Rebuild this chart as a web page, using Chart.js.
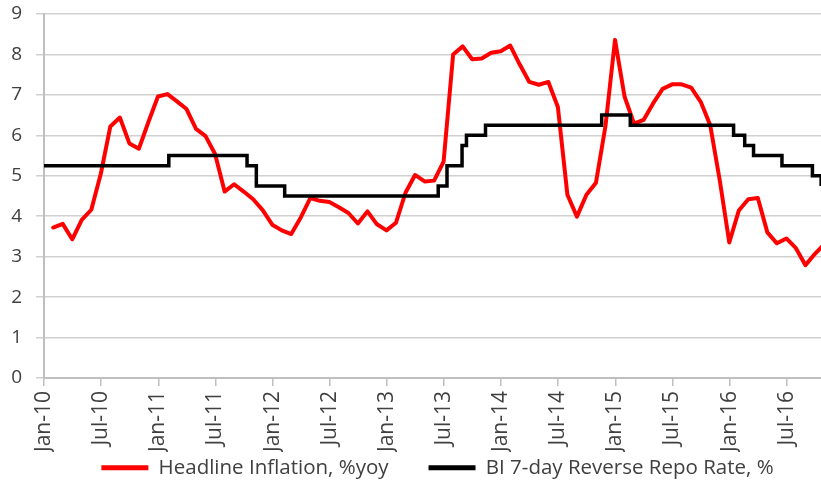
<!DOCTYPE html>
<html>
<head>
<meta charset="utf-8">
<script src="https://cdn.jsdelivr.net/npm/chart.js@4.4.1/dist/chart.umd.min.js"></script>
<style>
  html, body { margin: 0; padding: 0; background: #ffffff; }
  #wrap { width: 821px; height: 486px; position: relative; }
</style>
</head>
<body>
<div id="wrap"><canvas id="chart"></canvas></div>
<script>
// x axis: month offsets from Jan-10, ticks every 6 months
const TICK_LABELS = ["Jan-10", "Jul-10", "Jan-11", "Jul-11", "Jan-12", "Jul-12", "Jan-13",
  "Jul-13", "Jan-14", "Jul-14", "Jan-15", "Jul-15", "Jan-16", "Jul-16"];
const Y_TICKS = [0, 1, 2, 3, 4, 5, 6, 7, 8, 9];
const X_MAX = 81.6;

// headline inflation, monthly from Jan-10 (plotted at month end)
const INFLATION_START = "2010-01";
const INFLATION = [
  3.72, 3.81, 3.43, 3.91, 4.16, 5.05, 6.22, 6.44, 5.80, 5.67, 6.33, 6.96,
  7.02, 6.84, 6.65, 6.16, 5.98, 5.54, 4.61, 4.79, 4.61, 4.42, 4.15, 3.79,
  3.65, 3.56, 3.97, 4.45, 4.38, 4.35, 4.22, 4.08, 3.82, 4.12, 3.80, 3.65,
  3.84, 4.58, 5.02, 4.86, 4.88, 5.35, 8.00, 8.20, 7.88, 7.90, 8.04, 8.08,
  8.22, 7.75, 7.32, 7.25, 7.32, 6.70, 4.53, 3.99, 4.53, 4.83, 6.23, 8.36,
  6.96, 6.29, 6.38, 6.79, 7.15, 7.26, 7.26, 7.18, 6.83, 6.25, 4.89, 3.35,
  4.14, 4.42, 4.45, 3.60, 3.33, 3.45, 3.21, 2.79, 3.07, 3.31
];

// policy rate: dates of change and level from that date
const RATE_DATES = ["2010-01-01", "2011-02-04", "2011-10-11", "2011-11-10", "2012-02-09",
  "2013-06-13", "2013-07-11", "2013-08-29", "2013-09-12", "2013-11-12", "2014-11-18",
  "2015-02-17", "2016-01-14", "2016-02-18", "2016-03-17", "2016-06-16", "2016-09-22",
  "2016-10-20", "2016-10-31"];
const RATE_VALUES = [5.25, 5.5, 5.25, 4.75, 4.5, 4.75, 5.25, 5.75, 6.0, 6.25, 6.5,
  6.25, 6.0, 5.75, 5.5, 5.25, 5.0, 4.75, 4.75];

const MONTHS = ["Jan", "Feb", "Mar", "Apr", "May", "Jun", "Jul", "Aug", "Sep", "Oct", "Nov", "Dec"];
const TEXT_COLOR = "#404040";
const FAMILY = "'Open Sans', 'Noto Sans', sans-serif";
const X_AXIS_HEIGHT = 74;
const LEGEND_HEIGHT = 34;
const LEGEND_PADDING = 40;
const LEGEND_ROW_OFFSET = 5.5;
const LEGEND_SHIFT = 10;

function monthPos(y, m, d) {
  const days = new Date(y, m, 0).getDate();
  return (y - 2010) * 12 + (m - 1) + (d - 1) / days;
}

function dateToPos(str) {
  const [y, m, d] = str.split("-").map(Number);
  return monthPos(y, m, d);
}

function labelToPos(label) {
  const [mon, yy] = label.split("-");
  return monthPos(2000 + Number(yy), MONTHS.indexOf(mon) + 1, 1);
}

function inflationPoints() {
  const [y0, m0] = INFLATION_START.split("-").map(Number);
  return INFLATION.map((v, i) => {
    const y = y0 + Math.floor((m0 - 1 + i) / 12);
    const m = ((m0 - 1 + i) % 12) + 1;
    const lastDay = new Date(y, m, 0).getDate();
    return { x: monthPos(y, m, lastDay), y: v };
  });
}

function ratePoints() {
  return RATE_DATES.map((d, i) => ({ x: dateToPos(d), y: RATE_VALUES[i] }));
}

// legend: fixed band height, and the box stretched upward so the wide item gap
// (labels.padding) does not push the row off the bottom
const legendBandPlugin = {
  id: "legendBand",
  beforeLayout(chart) {
    const legend = chart.legend;
    if (!legend || legend._fixedFit) return;
    const fit = legend.fit.bind(legend);
    legend.fit = function () {
      fit();
      this.height = LEGEND_HEIGHT;
    };
    legend._fixedFit = true;
  },
  afterLayout(chart) {
    const legend = chart.legend;
    if (!legend) return;
    legend.top += LEGEND_ROW_OFFSET - LEGEND_PADDING;
    legend.height = legend.bottom - legend.top;
    legend.left += LEGEND_SHIFT;
    legend.width = legend.right - legend.left;
  }
};

new Chart(document.getElementById("chart"), {
  type: "line",
  data: {
    datasets: [
      {
        label: "Headline Inflation, %yoy",
        data: inflationPoints(),
        borderColor: "#ff0000",
        backgroundColor: "#ff0000",
        borderWidth: 4,
        borderJoinStyle: "round",
        borderCapStyle: "round",
        pointRadius: 0,
        tension: 0,
        order: 1
      },
      {
        label: "BI 7-day Reverse Repo Rate, %",
        data: ratePoints(),
        borderColor: "#000000",
        backgroundColor: "#000000",
        borderWidth: 3.5,
        pointRadius: 0,
        stepped: true,
        order: 0
      }
    ]
  },
  plugins: [legendBandPlugin],
  options: {
    responsive: true,
    maintainAspectRatio: false,
    animation: false,
    devicePixelRatio: 1,
    layout: { padding: { top: 14, right: 0, left: 0, bottom: 0 } },
    plugins: {
      tooltip: { enabled: false },
      legend: {
        position: "bottom",
        fullSize: false,
        labels: {
          font: { family: FAMILY, size: 20.5 },
          color: TEXT_COLOR,
          boxWidth: 47,
          boxHeight: 5,
          padding: LEGEND_PADDING,
          sort: (a, b) => a.datasetIndex - b.datasetIndex,
          generateLabels: chart => Chart.defaults.plugins.legend.labels.generateLabels(chart)
            .map(item => ({ ...item, lineWidth: 0 }))
        }
      }
    },
    scales: {
      x: {
        type: "linear",
        min: 0,
        max: X_MAX,
        afterBuildTicks: scale => {
          scale.ticks = TICK_LABELS.map(l => ({ value: labelToPos(l) }));
        },
        afterFit: scale => { scale.height = X_AXIS_HEIGHT; },
        ticks: {
          autoSkip: false,
          minRotation: 90,
          maxRotation: 90,
          padding: 5,
          font: { family: FAMILY, size: 21 },
          color: TEXT_COLOR,
          callback: (value, index) => TICK_LABELS[index]
        },
        grid: { drawOnChartArea: false, drawTicks: true, tickLength: 8, color: "#bfbfbf", lineWidth: 1.5 },
        border: { display: true, color: "#bfbfbf", width: 2 }
      },
      y: {
        min: Y_TICKS[0],
        max: Y_TICKS[Y_TICKS.length - 1],
        afterBuildTicks: scale => {
          scale.ticks = Y_TICKS.map(v => ({ value: v }));
        },
        afterFit: scale => {
          scale.width = 44;
          // tick padding would otherwise also be added above the top label
          scale.paddingTop = 0;
          scale.paddingBottom = 0;
        },
        ticks: { padding: 14, font: { family: FAMILY, size: 19 }, color: TEXT_COLOR },
        grid: { color: "#d0d0d0", lineWidth: 1.5, tickLength: 8 },
        border: { display: true, color: "#bfbfbf", width: 2 }
      }
    }
  }
});
</script>
</body>
</html>
